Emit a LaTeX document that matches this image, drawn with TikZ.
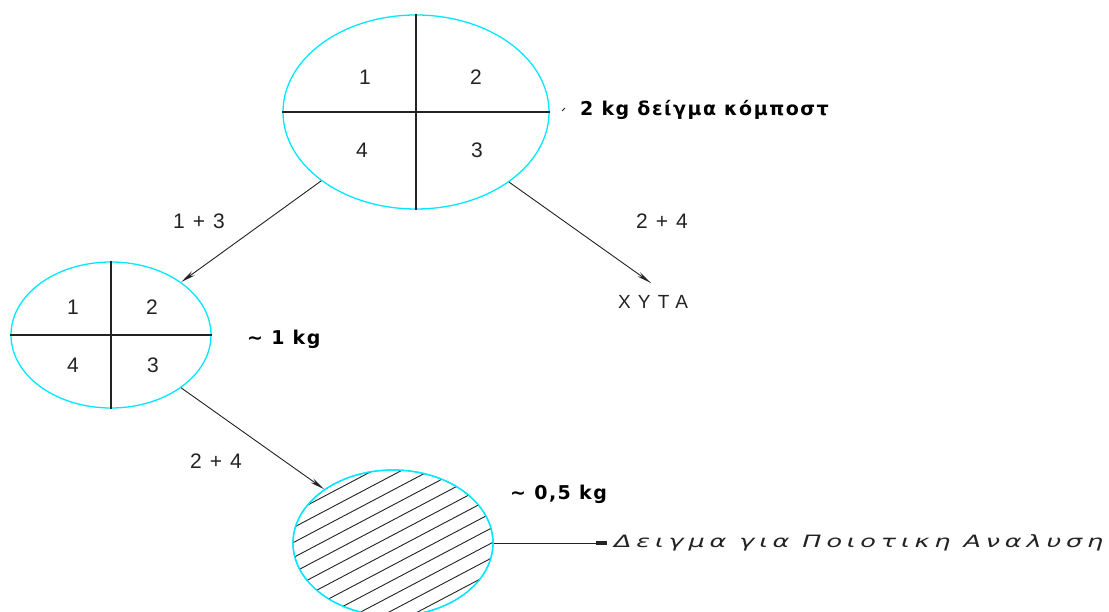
\documentclass[tikz,border=0pt]{standalone}
\usepackage{fontspec}
\usepackage{graphicx}
\setmainfont{DejaVu Sans}
\newfontfamily\cadfont{Liberation Sans}[LetterSpace=38]
\newfontfamily\blfont{DejaVu Sans}[LetterSpace=8]
\newfontfamily\grkfont{DejaVu Sans}[LetterSpace=19]
\usetikzlibrary{shapes.geometric,arrows.meta}
\definecolor{cy}{RGB}{0,232,255}
\definecolor{ln}{RGB}{35,35,35}
\tikzset{
  circ/.style={ellipse, draw=cy, line width=1.3pt, inner sep=0pt},
  div/.style={draw=ln, line width=1.4pt},
  arr/.style={draw=ln, line width=0.9pt, -{Stealth[length=15pt,width=5pt]}},
  num/.style={font=\cadfont\fontsize{21}{21}\selectfont, inner sep=0pt, text=ln},
  bl/.style={font=\blfont\bfseries\fontsize{19}{19}\selectfont, inner sep=0pt, text=black},
  hatch/.style={draw=ln, line width=0.9pt},
}
\begin{document}
\begin{tikzpicture}[x=1pt,y=-1pt]
\useasboundingbox[fill=white] (0,0) rectangle (1109,612);
\clip (0,0) rectangle (1109,612);
% big circle
\node[circ, minimum width=266pt, minimum height=194pt] (big) at (416,112) {};
\draw[div] (big.north) -- (big.south);
\draw[div] (big.west) -- (big.east);
\node[num] (b1) at (365,77) {1};
\node[num] (b2) at (476,77) {2};
\node[num] (b4) at (362,150) {4};
\node[num] (b3) at (477,150) {3};
% small circle
\node[circ, minimum width=200pt, minimum height=146pt] (small) at (111,335) {};
\draw[div] (small.north) -- (small.south);
\draw[div] (small.west) -- (small.east);
\node[num] (s1) at (73,307) {1};
\node[num] (s2) at (152,307) {2};
\node[num] (s4) at (73,365) {4};
\node[num] (s3) at (153,365) {3};
% hatched circle
\node[circ, minimum width=200pt, minimum height=146pt] (hat) at (393,543) {};
\begin{scope}
  \clip (hat.center) ellipse [x radius=100pt, y radius=73pt];
  \foreach \i in {-12,...,12} {
    \draw[hatch] (283,{550+15*\i+58}) -- (503,{550+15*\i-58});
  }
\end{scope}
\node[circ, minimum width=200pt, minimum height=146pt] at (393,543) {};
% labels
\node[bl, anchor=west] (lab2) at (580,110) {2 kg δείγμα κόμποστ};
\draw[draw=ln, line width=0.8pt] (562,111) -- (565,108);
\node[bl, anchor=west] (lab1) at (247,339) {\char"223C\ 1 kg};
\node[bl, anchor=west] (lab05) at (510,494) {\char"223C\ 0,5 kg};
\node[num] (l13) at (199,221) {1+3};
\node[num] (l24a) at (662,221) {2+4};
\node[num] (l24b) at (216,461) {2+4};
\node[num, font=\cadfont\fontsize{19}{19}\selectfont] (xyta) at (653,302) {XYTA};
\coordinate (xytatop) at (651,283);
\node[inner sep=0pt, anchor=west, text=ln] (res) at (614,543) {\scalebox{1.5}[1]{\grkfont\itshape\fontsize{17}{17}\selectfont Δειγμα για Ποιοτικη Αναλυση}};
% connectors
\draw[arr] (big.216) -- (small.37);
\draw[arr] (big.323.7) -- (xytatop);
\draw[arr] (small.323) -- (hat.142);
\draw[draw=ln, line width=1pt, -{Rectangle[length=11pt,width=4pt]}, shorten >=7pt] (hat.east) -- (res.west);
\end{tikzpicture}
\end{document}
